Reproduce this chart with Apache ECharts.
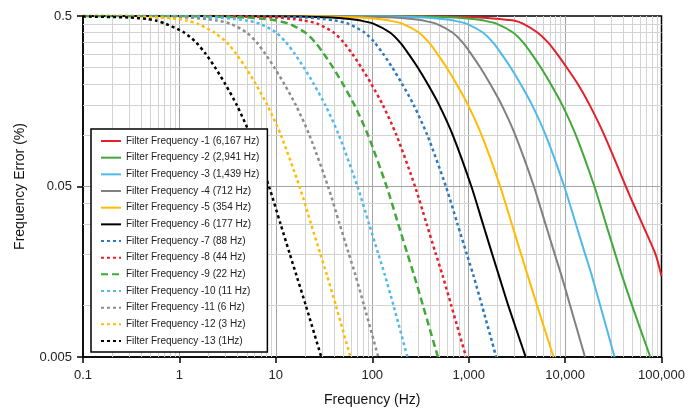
<!DOCTYPE html>
<html><head><meta charset="utf-8">
<script src="https://cdn.jsdelivr.net/npm/echarts@6/dist/echarts.min.js"></script>
<style>html,body{margin:0;padding:0;background:#fff}#c{width:688px;height:412px}</style>
</head><body><div id="c"></div>
<script>
// ---------- data (frequency Hz, frequency error %) ----------
const seriesNames = [
  'Filter Frequency -1 (6,167 Hz)','Filter Frequency -2 (2,941 Hz)','Filter Frequency -3 (1,439 Hz)',
  'Filter Frequency -4 (712 Hz)','Filter Frequency -5 (354 Hz)','Filter Frequency -6 (177 Hz)',
  'Filter Frequency -7 (88 Hz)','Filter Frequency -8 (44 Hz)','Filter Frequency -9 (22 Hz)',
  'Filter Frequency -10 (11 Hz)','Filter Frequency -11 (6 Hz)','Filter Frequency -12 (3 Hz)',
  'Filter Frequency -13 (1Hz)'
];
const filter1 = [[0.1,0.5],[300,0.499],[1300,0.49],[2100,0.48],[2940,0.47],[3692,0.45],[5168,0.4],[6648,0.35],[8253,0.3],[10366,0.25],[13500,0.2],[18010,0.15],[25510,0.1],[42740,0.05],[50570,0.04],[63530,0.03],[86800,0.02],[100000,0.0149]];
const filter2 = [[0.1,0.5],[200,0.499],[716,0.49],[1103,0.48],[1437,0.47],[1963,0.45],[2883,0.4],[3665,0.35],[4496,0.3],[5580,0.25],[7076,0.2],[9350,0.15],[12930,0.1],[20160,0.05],[26630,0.03],[33220,0.02],[38930,0.015],[49590,0.01],[76560,0.005]];
const filter3 = [[0.1,0.5],[98,0.499],[348.5,0.49],[536.9,0.48],[699.4,0.47],[955.4,0.45],[1403,0.4],[1783,0.35],[2188,0.3],[2715,0.25],[3443,0.2],[4550,0.15],[6291,0.1],[9810,0.05],[12960,0.03],[16170,0.02],[18940,0.015],[23200,0.01],[32580,0.005]];
const filter4 = [[0.1,0.5],[47,0.499],[168.8,0.49],[260,0.48],[338.6,0.47],[462.6,0.45],[679.3,0.4],[863.6,0.35],[1059,0.3],[1315,0.25],[1667,0.2],[2203,0.15],[3046,0.1],[4750,0.05],[6275,0.03],[7828,0.02],[9172,0.015],[11300,0.01],[16080,0.005]];
const filter5 = [[0.1,0.5],[21,0.499],[75.5,0.49],[116.3,0.48],[151.5,0.47],[207,0.45],[303.9,0.4],[386.3,0.35],[473.9,0.3],[588.2,0.25],[745.9,0.2],[985.6,0.15],[1363,0.1],[2125,0.05],[2807,0.03],[3502,0.02],[4103,0.015],[5130,0.01],[7586,0.005]];
const filter6 = [[0.1,0.5],[10.7,0.499],[37.9,0.49],[58.4,0.48],[76.1,0.47],[103.9,0.45],[152.6,0.4],[194,0.35],[237.9,0.3],[295.3,0.25],[374.5,0.2],[494.9,0.15],[684.3,0.1],[1067,0.05],[1410,0.03],[1758,0.02],[2060,0.015],[2576,0.01],[3902,0.005]];
const filter7 = [[0.1,0.5],[5.8,0.499],[20.6,0.49],[31.8,0.48],[41.4,0.47],[56.6,0.45],[83.1,0.4],[105.6,0.35],[129.6,0.3],[160.8,0.25],[203.9,0.2],[269.5,0.15],[372.6,0.1],[581,0.05],[767.5,0.03],[957.5,0.02],[1122,0.015],[1374,0.01],[1931,0.005]];
const filter8 = [[0.1,0.5],[2.8,0.499],[9.88,0.49],[15.2,0.48],[19.8,0.47],[27.1,0.45],[39.8,0.4],[50.5,0.35],[62,0.3],[76.9,0.25],[97.6,0.2],[128.9,0.15],[178.3,0.1],[278,0.05],[367.2,0.03],[458.1,0.02],[536.8,0.015],[661,0.01],[939,0.005]];
const filter9 = [[0.1,0.5],[1.4,0.499],[5.01,0.49],[7.72,0.48],[10.05,0.47],[13.73,0.45],[20.16,0.4],[25.63,0.35],[31.44,0.3],[39.03,0.25],[49.49,0.2],[65.4,0.15],[90.42,0.1],[141,0.05],[186.3,0.03],[232.4,0.02],[272.3,0.015],[336,0.01],[479.7,0.005]];
const filter10 = [[0.1,0.5],[0.7,0.499],[2.5,0.49],[3.85,0.48],[5.01,0.47],[6.85,0.45],[10.05,0.4],[12.78,0.35],[15.68,0.3],[19.46,0.25],[24.68,0.2],[32.6,0.15],[45.08,0.1],[70.3,0.05],[92.87,0.03],[115.9,0.02],[135.7,0.015],[166.3,0.01],[231.7,0.005]];
const filter11 = [[0.1,0.5],[0.35,0.499],[1.24,0.49],[1.9,0.48],[2.48,0.47],[3.39,0.45],[4.98,0.4],[6.33,0.35],[7.76,0.3],[9.63,0.25],[12.21,0.2],[16.14,0.15],[22.32,0.1],[34.8,0.05],[45.97,0.03],[57.35,0.02],[67.2,0.015],[82.3,0.01],[115.5,0.005]];
const filter12 = [[0.1,0.499],[0.625,0.49],[0.963,0.48],[1.2,0.47],[1.55,0.45],[2.3,0.4],[3.1,0.35],[3.87,0.3],[4.85,0.25],[6.18,0.2],[8.16,0.15],[11.29,0.1],[17.6,0.05],[23.25,0.03],[29.0,0.02],[33.99,0.015],[42.0,0.01],[59.4,0.005]];
const filter13 = [[0.1,0.497],[0.302,0.49],[0.465,0.48],[0.57,0.47],[0.72,0.45],[1.12,0.4],[1.49,0.35],[1.87,0.3],[2.34,0.25],[2.98,0.2],[3.94,0.15],[5.44,0.1],[8.49,0.05],[11.22,0.03],[13.99,0.02],[16.39,0.015],[20.5,0.01],[29.6,0.005]];
const seriesData = [filter1,filter2,filter3,filter4,filter5,filter6,filter7,filter8,filter9,filter10,filter11,filter12,filter13];

const xTickValues = [0.1, 1, 10, 100, 1000, 10000, 100000];
const xTickLabels = ['0.1', '1', '10', '100', '1,000', '10,000', '100,000'];
const yTickValues = [0.005, 0.05, 0.5];
const yTickLabels = ['0.005', '0.05', '0.5'];
const xMinorMultipliers = [2, 3, 4, 5, 6, 7, 8, 9];
const yMinorMultipliers = [2, 3, 4, 5, 6, 7, 8, 9];

// ---------- styles ----------
const RED = '#E5202A', GREEN = '#41A93A', LBLUE = '#4FB9EA', GRAY = '#808080',
      YEL = '#FFBC00', BLK = '#000000', BLUE = '#2A79BD';
const DOT = [3, 3], DASH = [7, 4];
const seriesStyles = [
  {color: RED, type: 'solid', width: 2}, {color: GREEN, type: 'solid', width: 2},
  {color: LBLUE, type: 'solid', width: 2}, {color: GRAY, type: 'solid', width: 2},
  {color: YEL, type: 'solid', width: 2}, {color: BLK, type: 'solid', width: 2},
  {color: BLUE, type: DOT, width: 2.5}, {color: RED, type: DOT, width: 2.5},
  {color: GREEN, type: DASH, width: 2.5}, {color: LBLUE, type: DOT, width: 2.5},
  {color: '#8C8C8C', type: DOT, width: 2.5}, {color: YEL, type: DOT, width: 2.5},
  {color: BLK, type: DOT, width: 2.5}
];
const FONT = '"Liberation Sans", Arial, Helvetica, sans-serif';

function pickLabel(v, vals, labels) {
  let best = 0, bd = Infinity;
  for (let i = 0; i < vals.length; i++) {
    const d = Math.abs(Math.log10(v) - Math.log10(vals[i]));
    if (d < bd) { bd = d; best = i; }
  }
  return labels[best];
}

// grid lines (minor + decade) built from tick values
const gridLines = [];
for (let i = 0; i < xTickValues.length - 1; i++) {
  xMinorMultipliers.forEach(m => gridLines.push({xAxis: xTickValues[i] * m, lineStyle: {color: '#D3D3D3'}}));
  if (i > 0) gridLines.push({xAxis: xTickValues[i], lineStyle: {color: '#A3A3A3'}});
}
for (let i = 0; i < yTickValues.length - 1; i++) {
  yMinorMultipliers.forEach(m => gridLines.push({yAxis: yTickValues[i] * m, lineStyle: {color: '#D3D3D3'}}));
  if (i > 0) gridLines.push({yAxis: yTickValues[i], lineStyle: {color: '#A3A3A3'}});
}

const series = [{
  type: 'line', name: '__grid', data: [[0.1, 0.5]], symbol: 'none', silent: true, z: 1,
  lineStyle: {opacity: 0},
  markLine: {silent: true, z: 1, symbol: ['none', 'none'], animation: false, label: {show: false},
    lineStyle: {type: 'solid', width: 1, color: '#D3D3D3'}, emphasis: {disabled: true}, data: gridLines}
}];
seriesData.forEach((d, i) => {
  series.push({
    type: 'line', name: seriesNames[i], data: d, symbol: 'none', showSymbol: false,
    smooth: 0.25, z: 2,
    lineStyle: Object.assign({cap: 'butt'}, seriesStyles[i]),
    itemStyle: {color: seriesStyles[i].color},
    emphasis: {disabled: true}
  });
});

const chart = echarts.init(document.getElementById('c'), null, {renderer: 'canvas'});
chart.setOption({
  animation: false,
  backgroundColor: '#fff',
  textStyle: {fontFamily: FONT},
  grid: {left: 83, right: 26, top: 16, bottom: 52, show: true, borderColor: '#000', borderWidth: 1.5, backgroundColor: 'transparent', z: 0},
  legend: {
    data: seriesNames, orient: 'vertical', left: 91, top: 129, z: 50,
    backgroundColor: '#fff', borderColor: '#000', borderWidth: 1.5,
    padding: [6, 8, 5, 9], itemWidth: 20, itemHeight: 12, itemGap: 4.67,
    selectedMode: false,
    itemStyle: {opacity: 0},
    textStyle: {fontSize: 10, color: '#222', fontFamily: FONT, lineHeight: 12}
  },
  xAxis: {
    type: 'log', logBase: 10, min: 0.1, max: 100000,
    name: 'Frequency (Hz)', nameLocation: 'middle', nameGap: 36,
    nameTextStyle: {fontSize: 14, color: '#111', fontFamily: FONT},
    axisLine: {onZero: false, lineStyle: {color: '#000', width: 1.5}},
    axisTick: {show: true, length: 6, customValues: xTickValues, lineStyle: {color: '#000', width: 1.5}},
    axisLabel: {customValues: xTickValues, fontSize: 13, color: '#222', margin: 12, fontFamily: FONT,
      formatter: v => pickLabel(v, xTickValues, xTickLabels)},
    splitLine: {show: false}, minorTick: {show: false}, minorSplitLine: {show: false}
  },
  yAxis: {
    type: 'log', logBase: 10, min: 0.005, max: 0.5,
    name: 'Frequency Error (%)', nameLocation: 'middle', nameGap: 56,
    nameTextStyle: {fontSize: 14, color: '#111', fontFamily: FONT},
    axisLine: {onZero: false, lineStyle: {color: '#000', width: 1.5}},
    axisTick: {show: true, length: 6, customValues: yTickValues, lineStyle: {color: '#000', width: 1.5}},
    axisLabel: {customValues: yTickValues, fontSize: 13, color: '#222', margin: 11, fontFamily: FONT,
      formatter: v => pickLabel(v, yTickValues, yTickLabels)},
    splitLine: {show: false}, minorTick: {show: false}, minorSplitLine: {show: false}
  },
  tooltip: {show: false},
  series: series
});
</script></body></html>
